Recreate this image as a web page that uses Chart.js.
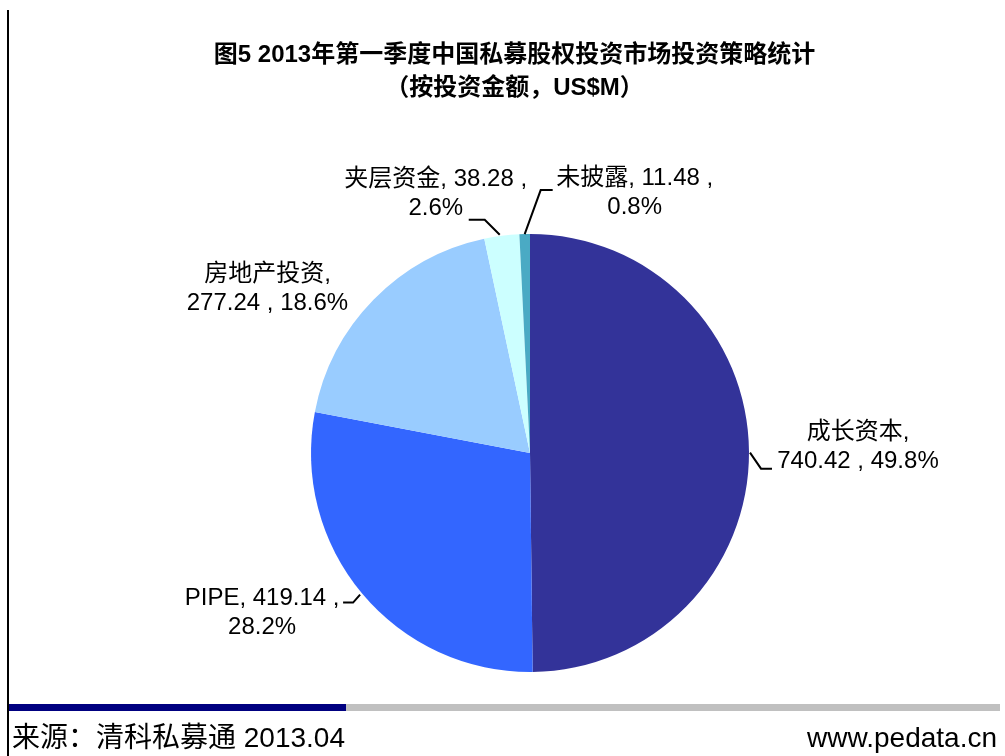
<!DOCTYPE html>
<html>
<head>
    <meta charset="utf-8">
    <title>图5 2013年第一季度中国私募股权投资市场投资策略统计</title>
    <script src="https://cdn.jsdelivr.net/npm/chart.js"></script>
    <style>
        body {
            margin: 0;
            background-color: #ffffff;
            width: 1005px;
            height: 756px;
            overflow: hidden;
            position: relative;
            font-family: "Liberation Sans", "Noto Sans CJK SC", sans-serif;
            color: #000;
        }

        #chart {
            position: absolute;
            left: 0;
            top: 0;
        }

        .left-rule {
            position: absolute;
            left: 7px;
            top: 10px;
            bottom: 0;
            width: 2px;
            background: #000;
        }

        .title {
            position: absolute;
            left: 0;
            width: 1029px; /* centre at ~514px */
            text-align: center;
            font-weight: bold;
            font-size: 24px;
            line-height: 32px;
            white-space: nowrap;
        }

        .bar-blue {
            position: absolute;
            left: 9px;
            top: 704px;
            width: 337px;
            height: 7px;
            background: #000080;
        }

        .bar-grey {
            position: absolute;
            left: 346px;
            top: 704px;
            width: 654px;
            height: 7px;
            background: #c0c0c0;
        }

        .footer {
            position: absolute;
            top: 721px;
            font-size: 28px;
            line-height: 34px;
            white-space: nowrap;
        }
    </style>
</head>
<body>
    <canvas id="chart" width="1005" height="756"></canvas>
    <div class="left-rule"></div>
    <div class="title" style="top: 38px;">图5 2013年第一季度中国私募股权投资市场投资策略统计</div>
    <div class="title" style="top: 71px;">（按投资金额，US$M）</div>
    <div class="bar-blue"></div>
    <div class="bar-grey"></div>
    <div class="footer" style="left: 12px;">来源：清科私募通 2013.04</div>
    <div class="footer" style="right: 8px;">www.pedata.cn</div>

    <script>
        // data
        const categories = ['成长资本', 'PIPE', '房地产投资', '夹层资金', '未披露'];
        const amounts = [740.42, 419.14, 277.24, 38.28, 11.48];
        const shares = ['49.8', '28.2', '18.6', '2.6', '0.8'];
        const sliceColors = ['#333399', '#3366ff', '#99ccff', '#ccffff', '#4aaac4'];

        // where each label line breaks: after the name or after the value
        const breakAfter = ['name', 'value', 'name', 'value', 'value'];

        // label block centre and leader line, relative to the slice's outer mid point
        const labelLayout = [
            { dx: 109, dy: -5, leader: [[1, 1], [12, 17], [23, 17]] },
            { dx: -100, dy: 19, leader: [[-2, 1], [-9, 9], [-19, 9]] },
            { dx: -106, dy: -11, leader: null },
            { dx: -66, dy: -42, leader: [[-2, -1], [-17, -16], [-33, -16]] },
            { dx: 110, dy: -41, leader: [[0, 0], [16, -44], [28, -44]] }
        ];

        function labelLines(i) {
            if (breakAfter[i] === 'name') {
                return [categories[i] + ',', amounts[i].toFixed(2) + ' , ' + shares[i] + '%'];
            }
            return [categories[i] + ', ' + amounts[i].toFixed(2) + ' ,', shares[i] + '%'];
        }

        // draws the outside labels and leader lines
        const sliceLabels = {
            id: 'sliceLabels',
            afterDatasetsDraw(chart) {
                const ctx = chart.ctx;
                const meta = chart.getDatasetMeta(0);
                ctx.save();
                meta.data.forEach((arc, i) => {
                    const p = arc.getProps(['x', 'y', 'startAngle', 'endAngle', 'outerRadius'], true);
                    const mid = (p.startAngle + p.endAngle) / 2;
                    const ex = p.x + Math.cos(mid) * p.outerRadius;
                    const ey = p.y + Math.sin(mid) * p.outerRadius;
                    const lay = labelLayout[i];

                    if (lay.leader) {
                        ctx.beginPath();
                        ctx.strokeStyle = '#000';
                        ctx.lineWidth = 2;
                        lay.leader.forEach((pt, k) => {
                            if (k === 0) ctx.moveTo(ex + pt[0], ey + pt[1]);
                            else ctx.lineTo(ex + pt[0], ey + pt[1]);
                        });
                        ctx.stroke();
                    }

                    const lines = labelLines(i);
                    const lineH = 29;
                    ctx.fillStyle = '#000';
                    ctx.font = '24px "Liberation Sans", "Noto Sans CJK SC", sans-serif';
                    ctx.textAlign = 'center';
                    ctx.textBaseline = 'middle';
                    lines.forEach((t, k) => {
                        const off = (k - (lines.length - 1) / 2) * lineH;
                        ctx.fillText(t, ex + lay.dx, ey + lay.dy + off);
                    });
                });
                ctx.restore();
            }
        };

        new Chart(document.getElementById('chart'), {
            type: 'pie',
            data: {
                labels: categories,
                datasets: [{
                    data: amounts,
                    backgroundColor: sliceColors,
                    borderWidth: 0
                }]
            },
            options: {
                responsive: false,
                animation: false,
                layout: {
                    padding: { left: 311, right: 256, top: 234, bottom: 84 }
                },
                plugins: {
                    legend: { display: false },
                    tooltip: { enabled: false },
                    title: { display: false }
                }
            },
            plugins: [sliceLabels]
        });
    </script>
</body>
</html>
